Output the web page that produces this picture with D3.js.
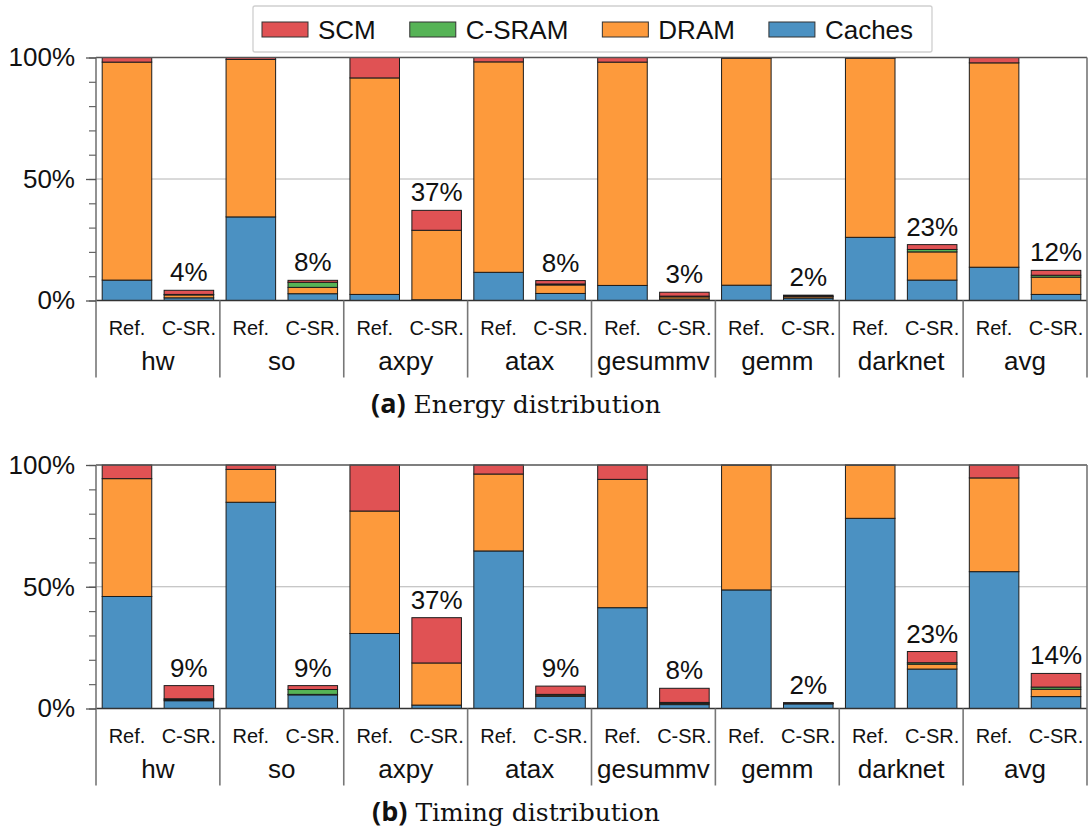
<!DOCTYPE html>
<html>
<head>
<meta charset="utf-8">
<script src="https://cdn.jsdelivr.net/npm/d3@7"></script>
<style>
  body { margin: 0; background: #fff; }
  text { font-family: "Liberation Sans", Arial, Helvetica, sans-serif; fill: #111; }
</style>
</head>
<body>
<svg id="chart" width="1088" height="828"></svg>
<script>
// ---- data -------------------------------------------------------------
const benchmarks = ["hw", "so", "axpy", "atax", "gesummv", "gemm", "darknet", "avg"];
const configs = ["Ref.", "C-SR."];
const components = ["Caches", "DRAM", "C-SRAM", "SCM"];   // stacked bottom to top
const legendOrder = ["SCM", "C-SRAM", "DRAM", "Caches"];
const majorTicks = [0, 50, 100];
const minorTicks = [0, 10, 20, 30, 40, 50, 60, 70, 80, 90, 100];

// (a) Energy distribution, % of the reference total
const energyRefCaches  = [8.4, 34.4, 2.5, 11.6, 6.2, 6.3, 26.0, 13.7];
const energyRefDRAM    = [89.7, 64.8, 89.1, 86.6, 91.9, 93.4, 73.7, 84.1];
const energyRefCSRAM   = [0, 0, 0, 0, 0, 0, 0, 0];
const energyRefSCM     = [1.9, 0.8, 8.4, 1.8, 1.9, 0.3, 0.3, 2.2];
const energyCsrCaches  = [1.1, 2.8, 0.3, 2.9, 0.6, 1.0, 8.4, 2.5];
const energyCsrDRAM    = [1.2, 2.6, 28.6, 3.5, 0.9, 0.6, 11.6, 7.1];
const energyCsrCSRAM   = [0.2, 2.1, 0.0, 0.4, 0.3, 0.2, 1.0, 0.8];
const energyCsrSCM     = [1.7, 0.8, 8.2, 1.4, 1.6, 0.4, 2.0, 2.0];

// (b) Timing distribution, % of the reference total
const timingRefCaches  = [46.0, 84.7, 30.8, 64.7, 41.4, 48.7, 78.1, 56.2];
const timingRefDRAM    = [48.4, 13.5, 50.3, 31.6, 52.7, 51.2, 21.8, 38.5];
const timingRefCSRAM   = [0, 0, 0, 0, 0, 0, 0, 0];
const timingRefSCM     = [5.6, 1.8, 18.9, 3.7, 5.9, 0.1, 0.1, 5.3];
const timingCsrCaches  = [3.2, 5.6, 1.4, 5.0, 1.6, 1.9, 16.2, 4.9];
const timingCsrDRAM    = [0.4, 0.2, 17.3, 0.5, 0.5, 0.2, 2.0, 3.0];
const timingCsrCSRAM   = [0.4, 2.0, 0.0, 0.3, 0.4, 0.1, 0.6, 0.9];
const timingCsrSCM     = [5.4, 1.6, 18.6, 3.4, 5.8, 0.2, 4.6, 5.6];

const colors = { "SCM": "#e05254", "C-SRAM": "#56b356", "DRAM": "#fd9a3c", "Caches": "#4b91c2" };

// ---- helpers ----------------------------------------------------------
function buildRows(ref, csr) {
  const rows = [];
  benchmarks.forEach((b, i) => {
    [ref, csr].forEach((set, k) => {
      const row = { bench: b, config: configs[k] };
      components.forEach((c, j) => { row[c] = set[j][i]; });
      rows.push(row);
    });
  });
  return rows;
}

const energyRows = buildRows(
  [energyRefCaches, energyRefDRAM, energyRefCSRAM, energyRefSCM],
  [energyCsrCaches, energyCsrDRAM, energyCsrCSRAM, energyCsrSCM]);
const timingRows = buildRows(
  [timingRefCaches, timingRefDRAM, timingRefCSRAM, timingRefSCM],
  [timingCsrCaches, timingCsrDRAM, timingCsrCSRAM, timingCsrSCM]);

const svg = d3.select("#chart");
const plotLeft = 96, plotRight = 1087;

const xGroup = d3.scaleBand().domain(benchmarks).range([plotLeft, plotRight]).padding(0);
const xInner = d3.scaleBand().domain(configs).range([0, xGroup.bandwidth()])
  .paddingInner(0.2).paddingOuter(0.1);

function drawPanel(rows, top, bottom, letter, title) {
  const y = d3.scaleLinear().domain([0, 100]).range([bottom, top]);
  const g = svg.append("g");

  // gridline at 50%
  g.append("line")
    .attr("x1", plotLeft).attr("x2", plotRight)
    .attr("y1", y(50)).attr("y2", y(50))
    .attr("stroke", "#b4b4b4").attr("stroke-width", 1);

  // stacked bars
  const series = d3.stack().keys(components)(rows);
  g.selectAll("g.layer").data(series).join("g")
    .attr("class", "layer")
    .attr("fill", d => colors[d.key])
    .selectAll("rect").data(d => d).join("rect")
      .attr("x", d => xGroup(d.data.bench) + xInner(d.data.config))
      .attr("width", xInner.bandwidth())
      .attr("y", d => y(d[1]))
      .attr("height", d => Math.max(0, y(d[0]) - y(d[1])))
      .attr("stroke", "#1c1c1c").attr("stroke-width", 1);

  // totals above the C-SR. bars
  const csr = rows.filter(r => r.config === "C-SR.");
  g.selectAll("text.total").data(csr).join("text")
    .attr("class", "total")
    .attr("x", d => xGroup(d.bench) + xInner("C-SR.") + xInner.bandwidth() / 2)
    .attr("y", d => y(d3.sum(components, c => d[c])) - 9)
    .attr("text-anchor", "middle")
    .attr("font-size", 26)
    .text(d => Math.round(d3.sum(components, c => d[c])) + "%");

  // frame: top line and baseline
  g.append("line").attr("x1", plotLeft).attr("x2", plotRight)
    .attr("y1", y(100)).attr("y2", y(100)).attr("stroke", "#555").attr("stroke-width", 1.5);
  g.append("line").attr("x1", plotLeft).attr("x2", plotRight)
    .attr("y1", y(0)).attr("y2", y(0)).attr("stroke", "#333").attr("stroke-width", 1.5);

  // group separators extending into the label area
  const sepBottom = bottom + 77;
  const seps = benchmarks.map(b => xGroup(b)).concat([plotRight]);
  g.selectAll("line.sep").data(seps).join("line")
    .attr("class", "sep")
    .attr("x1", d => d).attr("x2", d => d)
    .attr("y1", (d, i) => (i === 0 || i === seps.length - 1) ? top : bottom)
    .attr("y2", sepBottom)
    .attr("stroke", "#777").attr("stroke-width", 1.6);

  // y axis ticks
  const minorAxis = d3.axisLeft(y).tickValues(minorTicks).tickSize(7).tickFormat("");
  const majorAxis = d3.axisLeft(y).tickValues(majorTicks).tickSize(10).tickPadding(11)
    .tickFormat(d => d + "%");
  const ga = g.append("g").attr("transform", `translate(${plotLeft},0)`).call(minorAxis);
  ga.select(".domain").remove();
  ga.selectAll(".tick line").attr("stroke", "#666").attr("stroke-width", 1.2);
  const gb = g.append("g").attr("transform", `translate(${plotLeft},0)`).call(majorAxis);
  gb.select(".domain").remove();
  gb.selectAll(".tick line").attr("stroke", "#555").attr("stroke-width", 1.3);
  gb.selectAll(".tick text").attr("font-size", 26).attr("fill", "#111")
    .attr("font-family", "'Liberation Sans', Arial, sans-serif");

  // x labels: configs and benchmark names
  rows.forEach(r => {
    g.append("text")
      .attr("x", xGroup(r.bench) + xInner(r.config) + xInner.bandwidth() / 2)
      .attr("y", bottom + 27).attr("dy", "0.35em")
      .attr("text-anchor", "middle").attr("font-size", 20)
      .text(r.config);
  });
  g.selectAll("text.bench").data(benchmarks).join("text")
    .attr("class", "bench")
    .attr("x", d => xGroup(d) + xGroup.bandwidth() / 2)
    .attr("y", bottom + 60).attr("dy", "0.35em")
    .attr("text-anchor", "middle").attr("font-size", 26)
    .text(d => d);

  // caption
  const cap = g.append("text")
    .attr("x", 516).attr("y", bottom + 104).attr("dy", "0.35em")
    .attr("text-anchor", "middle").attr("font-size", 25);
  cap.append("tspan").attr("font-weight", "bold").attr("font-size", 27)
    .attr("font-family", "'Open Sans', 'Liberation Sans', sans-serif").text(`(${letter})`);
  cap.append("tspan").attr("font-family", "'DejaVu Serif', 'Liberation Serif', serif")
    .text(" " + title);
}

drawPanel(energyRows, 57.5, 300.5, "a", "Energy distribution");
drawPanel(timingRows, 465, 708.5, "b", "Timing distribution");

// ---- legend -------------------------------------------------------------
const legend = svg.append("g");
legend.append("rect")
  .attr("x", 253).attr("y", 6).attr("width", 679).attr("height", 46)
  .attr("rx", 2).attr("fill", "#fff").attr("stroke", "#cfcfcf").attr("stroke-width", 1.3);
let lx = 262;
legendOrder.forEach(k => {
  legend.append("rect").attr("x", lx).attr("y", 22).attr("width", 46).attr("height", 15)
    .attr("fill", colors[k]).attr("stroke", "#333").attr("stroke-width", 1);
  const t = legend.append("text").attr("x", lx + 56).attr("y", 29.5).attr("dy", "0.35em")
    .attr("font-size", 26).text(k);
  lx += 56 + t.node().getComputedTextLength() + 34;
});
</script>
</body>
</html>
